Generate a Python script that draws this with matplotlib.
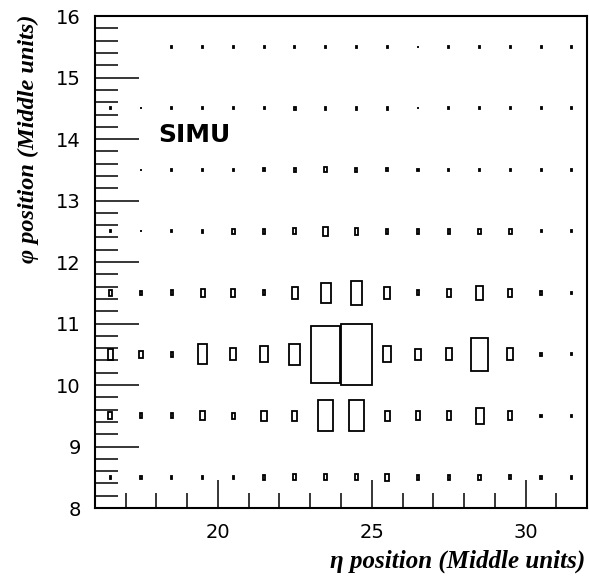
import numpy as np
import matplotlib.pyplot as plt
from matplotlib.patches import Rectangle
from matplotlib.ticker import MultipleLocator

# bin centres (Middle units)
eta_bins = [16.5, 17.5, 18.5, 19.5, 20.5, 21.5, 22.5, 23.5,
            24.5, 25.5, 26.5, 27.5, 28.5, 29.5, 30.5, 31.5]
phi_bins = [8.5, 9.5, 10.5, 11.5, 12.5, 13.5, 14.5, 15.5]

# relative cell content per phi row (max = 100)
row_8p5 = [4, 4, 4, 4, 5, 9, 10, 10, 10, 12, 9, 8, 8, 6, 4, 4]
row_9p5 = [12, 8, 8, 15, 10, 17, 17, 50, 50, 17, 14, 14, 26, 14, 4, 4]
row_10p5 = [17, 12, 8, 32, 19, 26, 35, 93, 100, 26, 17, 20, 53, 20, 5, 3]
row_11p5 = [10, 7, 8, 13, 13, 8, 20, 33, 38, 19, 8, 13, 22, 12, 6, 3]
row_12p5 = [3, 3, 3, 5, 8, 8, 10, 15, 12, 8, 8, 8, 8, 8, 3, 3]
row_13p5 = [0, 3, 3, 3, 3, 5, 6, 8, 6, 5, 4, 4, 4, 4, 3, 3]
row_14p5 = [3, 3, 3, 3, 3, 3, 5, 5, 4, 4, 3, 3, 3, 3, 3, 3]
row_15p5 = [0, 0, 3, 3, 3, 3, 3, 3, 3, 3, 3, 3, 3, 3, 3, 3]

content = np.array([row_8p5, row_9p5, row_10p5, row_11p5,
                    row_12p5, row_13p5, row_14p5, row_15p5], dtype=float)

fig = plt.figure(figsize=(5.89, 5.76), dpi=100)
ax = fig.add_axes([0.161, 0.118, 0.836, 0.854])

cmax = content.max()
for j, yc in enumerate(phi_bins):
    for i, xc in enumerate(eta_bins):
        f = content[j, i] / cmax
        if f <= 0:
            continue
        w, h = 1.0 * f, 1.0 * f
        ax.add_patch(Rectangle((xc - w / 2, yc - h / 2), w, h,
                               fill=False, edgecolor="black", linewidth=1.3))

ax.set_xlim(16, 32)
ax.set_ylim(8, 16)

ax.xaxis.set_major_locator(MultipleLocator(5))
ax.xaxis.set_minor_locator(MultipleLocator(1))
ax.yaxis.set_major_locator(MultipleLocator(1))
ax.yaxis.set_minor_locator(MultipleLocator(0.2))
ax.tick_params(axis="x", which="major", direction="in", length=20, width=1.1,
               labelsize=14, pad=11)
ax.tick_params(axis="x", which="minor", direction="in", length=11, width=1.1)
ax.tick_params(axis="y", which="major", direction="in", length=32, width=1.1,
               labelsize=14, pad=10)
ax.tick_params(axis="y", which="minor", direction="in", length=16.5, width=1.1)
for sp in ax.spines.values():
    sp.set_linewidth(1.5)

ax.text(18.06, 13.95, "SIMU", fontsize=18, fontweight="bold",
        family="DejaVu Sans", ha="left", va="baseline")

fig.text(0.994, 0.026, "\u03b7 position (Middle units)", ha="right", va="center",
         fontsize=18, fontweight="bold", fontstyle="italic",
         family="Liberation Serif")
fig.text(0.048, 0.974, "\u03c6 position (Middle units)", ha="center", va="top",
         rotation=90, fontsize=17.5, fontweight="bold", fontstyle="italic",
         family="Liberation Serif")

fig.savefig("out.png", dpi=100)
